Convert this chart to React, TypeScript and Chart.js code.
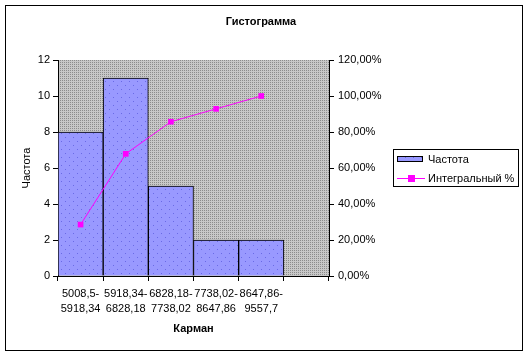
import React, { useEffect, useRef } from "react";
import { Chart, registerables } from "chart.js";

Chart.register(...registerables);

const categories: (string | string[])[] = [
  ["5008,5-", "5918,34"],
  ["5918,34-", "6828,18"],
  ["6828,18-", "7738,02"],
  ["7738,02-", "8647,86"],
  ["8647,86-", "9557,7"],
  "",
];
const frequency = [8, 11, 5, 2, 2, 0];
const cumulative = [0.2857, 0.6786, 0.8571, 0.9286, 1.0, null];
const chartTitle = "Гистограмма";
const xTitle = "Карман";
const yTitle = "Частота";
const barLabel = "Частота";
const lineLabel = "Интегральный %";

const FONT = "'Liberation Sans', Arial, sans-serif";

function makeGrayPattern(): CanvasPattern | string {
  const c = document.createElement("canvas");
  c.width = 4;
  c.height = 4;
  const g = c.getContext("2d");
  if (!g) return "#c0c0c0";
  g.fillStyle = "#c8c8c8";
  g.fillRect(0, 0, 4, 4);
  g.fillStyle = "#8c8c8c";
  g.fillRect(0, 0, 1, 1);
  g.fillRect(2, 0, 1, 1);
  g.fillRect(0, 2, 1, 1);
  g.fillRect(2, 2, 1, 1);
  return g.createPattern(c, "repeat") || "#c0c0c0";
}

function makeBarPattern(): CanvasPattern | string {
  const c = document.createElement("canvas");
  c.width = 8;
  c.height = 8;
  const g = c.getContext("2d");
  if (!g) return "#9999ff";
  g.fillStyle = "#9999ff";
  g.fillRect(0, 0, 8, 8);
  g.fillStyle = "#6a6ae6";
  g.fillRect(1, 1, 1, 1);
  g.fillRect(5, 5, 1, 1);
  return g.createPattern(c, "repeat") || "#9999ff";
}

export default function App() {
  const ref = useRef<HTMLCanvasElement | null>(null);

  useEffect(() => {
    if (!ref.current) return;
    const grayPat = makeGrayPattern();
    const barPat = makeBarPattern();

    const decor = {
      id: "decor",
      beforeDraw(chart: any) {
        const { ctx, chartArea } = chart;
        ctx.save();
        ctx.fillStyle = "#ffffff";
        ctx.fillRect(0, 0, chart.width, chart.height);
        ctx.fillStyle = grayPat;
        ctx.fillRect(chartArea.left, chartArea.top, chartArea.right - chartArea.left, chartArea.bottom - chartArea.top);
        ctx.restore();
      },
      afterDraw(chart: any) {
        const { ctx } = chart;
        ctx.save();
        // outer border
        ctx.strokeStyle = "#000000";
        ctx.lineWidth = 1;
        ctx.strokeRect(5.5, 5.5, 517, 345);
        // title
        ctx.fillStyle = "#000000";
        ctx.font = `bold 11px ${FONT}`;
        ctx.textAlign = "center";
        ctx.textBaseline = "middle";
        ctx.fillText(chartTitle, 261, 22);
        // legend
        ctx.strokeRect(393.5, 149.5, 125, 37);
        ctx.fillStyle = barPat;
        ctx.fillRect(397, 156, 26, 6);
        ctx.strokeRect(397.5, 156.5, 25, 5);
        ctx.strokeStyle = "#ff00ff";
        ctx.beginPath();
        ctx.moveTo(397, 178.5);
        ctx.lineTo(425, 178.5);
        ctx.stroke();
        ctx.fillStyle = "#ff00ff";
        ctx.fillRect(408, 175, 7, 7);
        ctx.fillStyle = "#000000";
        ctx.font = `11px ${FONT}`;
        ctx.textAlign = "left";
        ctx.fillText(chart.data.datasets[0].label, 428, 159.5);
        ctx.fillText(chart.data.datasets[1].label, 428, 178.5);
        ctx.restore();
      },
    };

    const chart = new Chart(ref.current, {
      data: {
        labels: categories,
        datasets: [
          {
            type: "bar",
            label: barLabel,
            data: frequency,
            backgroundColor: barPat as any,
            borderColor: "#000000",
            borderWidth: 1,
            barPercentage: 1,
            categoryPercentage: 1,
            yAxisID: "y",
            order: 2,
          },
          {
            type: "line",
            label: lineLabel,
            data: cumulative,
            borderColor: "#ff00ff",
            backgroundColor: "#ff00ff",
            borderWidth: 1,
            pointStyle: "rect",
            pointRadius: 4,
            pointBorderWidth: 0,
            yAxisID: "y1",
            order: 1,
            spanGaps: false,
          },
        ],
      } as any,
      options: {
        responsive: false,
        animation: false,
        devicePixelRatio: 1,
        layout: { padding: { top: 60, left: 0, right: 0, bottom: 0 } },
        plugins: {
          legend: { display: false },
          title: { display: false },
          tooltip: { enabled: false },
        },
        scales: {
          x: {
            type: "category",
            offset: true,
            afterFit(scale: any) {
              scale.height = 80;
            },
            grid: {
              offset: true,
              drawOnChartArea: false,
              drawTicks: true,
              tickLength: 5,
              color: "#000000",
            },
            border: { color: "#000000", width: 1 },
            ticks: {
              color: "#000000",
              font: { family: FONT, size: 11, lineHeight: "15px" } as any,
              padding: 5,
              maxRotation: 0,
              minRotation: 0,
              autoSkip: false,
            },
            title: {
              display: true,
              text: xTitle,
              color: "#000000",
              font: { family: FONT, size: 11, weight: "bold" },
              padding: { top: 0, bottom: 20 },
            },
          },
          y: {
            type: "linear",
            position: "left",
            min: 0,
            max: 12,
            afterFit(scale: any) {
              scale.width = 58;
            },
            grid: {
              drawOnChartArea: false,
              drawTicks: true,
              tickLength: 5,
              color: "#000000",
            },
            border: { color: "#000000", width: 1 },
            ticks: {
              stepSize: 2,
              color: "#000000",
              font: { family: FONT, size: 11 },
              padding: 3,
            },
            title: {
              display: true,
              text: yTitle,
              color: "#000000",
              font: { family: FONT, size: 11 },
              padding: { top: 20, bottom: 0 },
            },
          },
          y1: {
            type: "linear",
            position: "right",
            min: 0,
            max: 1.2,
            afterFit(scale: any) {
              scale.width = 200;
            },
            grid: {
              drawOnChartArea: false,
              drawTicks: true,
              tickLength: 5,
              color: "#000000",
            },
            border: { color: "#000000", width: 1 },
            ticks: {
              stepSize: 0.2,
              color: "#000000",
              font: { family: FONT, size: 11 },
              padding: 4,
              callback: (v: any) => (Number(v) * 100).toFixed(2).replace(".", ",") + "%",
            },
          },
        },
      } as any,
      plugins: [decor],
    });

    return () => chart.destroy();
  }, []);

  return (
    <div style={{ position: "fixed", left: 0, top: 0, width: 529, height: 356, background: "#fff" }}>
      <canvas ref={ref} width={529} height={356} style={{ display: "block", width: 529, height: 356 }} />
    </div>
  );
}
